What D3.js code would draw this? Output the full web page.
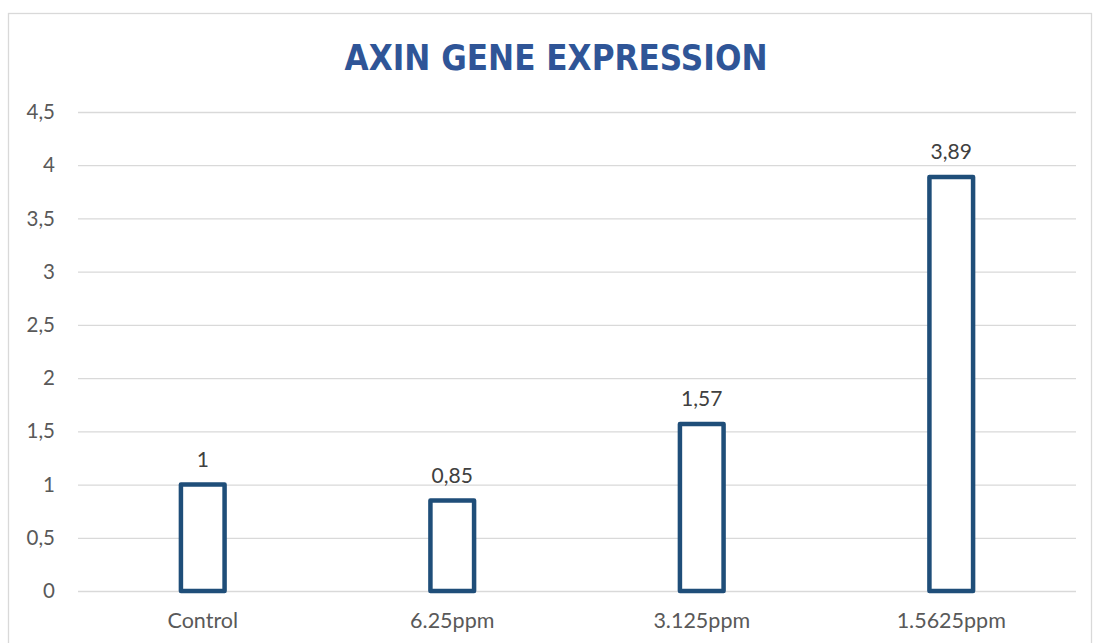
<!DOCTYPE html>
<html>
<head>
<meta charset="utf-8">
<script src="https://cdn.jsdelivr.net/npm/d3@7"></script>
<style>
  body { margin: 0; background: #fff; }
  svg { display: block; }
  .grid line { stroke: #d9d9d9; stroke-width: 1.3; }
  .grid path { display: none; }
  .tick text { fill: #595959; font-family: Lato, "Open Sans", sans-serif; font-size: 20.5px; }
</style>
</head>
<body>
<svg id="chart" width="1094" height="643"></svg>
<script>
var categories = ["Control", "6.25ppm", "3.125ppm", "1.5625ppm"];
var values = [1, 0.85, 1.57, 3.89];
var yTicks = [0, 0.5, 1, 1.5, 2, 2.5, 3, 3.5, 4, 4.5];

var width = 1094, height = 643;
var plot = {left: 78, right: 1076, top: 112, bottom: 591};

var locale = d3.formatLocale({decimal: ",", thousands: ".", grouping: [3], currency: ["", ""]});
var fmt = function(v) { return locale.format("~g")(v); };

var svg = d3.select("#chart");

svg.append("rect")
    .attr("x", 8.5)
    .attr("y", 13.5)
    .attr("width", 1083)
    .attr("height", 640)
    .attr("fill", "#fff")
    .attr("stroke", "#d9d9d9")
    .attr("stroke-width", 1.3);

svg.append("text")
    .attr("x", 556)
    .attr("y", 70)
    .attr("text-anchor", "middle")
    .attr("textLength", 423)
    .attr("lengthAdjust", "spacingAndGlyphs")
    .style("font-family", "'DejaVu Sans', sans-serif")
    .style("font-weight", "bold")
    .style("font-size", "35px")
    .style("fill", "#2f5597")
    .text("AXIN GENE EXPRESSION");

var xScale = d3.scaleBand()
    .domain(categories)
    .range([plot.left, plot.right])
    .paddingInner(0.825)
    .paddingOuter(0.4125);

var yScale = d3.scaleLinear()
    .domain([0, 4.5])
    .range([plot.bottom, plot.top]);

var yAxis = d3.axisLeft(yScale)
    .tickValues(yTicks)
    .tickSize(-(plot.right - plot.left))
    .tickPadding(23)
    .tickFormat(fmt);

svg.append("g")
    .attr("class", "grid")
    .attr("transform", `translate(${plot.left}, 0)`)
    .call(yAxis);

var xAxis = d3.axisBottom(xScale).tickSize(0).tickPadding(22);
svg.append("g")
    .attr("class", "grid")
    .attr("transform", `translate(0, ${plot.bottom})`)
    .call(xAxis)
    .selectAll("text")
        .style("font-size", "21.5px");

var bar = svg.selectAll("g.bar")
    .data(values)
    .enter().append("g")
        .attr("class", "bar");

bar.append("rect")
    .attr("x", function(d, i) { return xScale(categories[i]); })
    .attr("width", xScale.bandwidth())
    .attr("y", function(d) { return yScale(d); })
    .attr("height", function(d) { return plot.bottom - yScale(d); })
    .attr("fill", "#fff")
    .attr("stroke", "#1f4e79")
    .attr("stroke-width", 4.5)
    .attr("stroke-linejoin", "round");

bar.append("text")
    .attr("x", function(d, i) { return xScale(categories[i]) + xScale.bandwidth() / 2; })
    .attr("y", function(d) { return yScale(d) - 18; })
    .attr("text-anchor", "middle")
    .style("font-family", "Lato, 'Open Sans', sans-serif")
    .style("font-size", "21px")
    .style("fill", "#404040")
    .text(function(d) { return fmt(d); });
</script>
</body>
</html>
